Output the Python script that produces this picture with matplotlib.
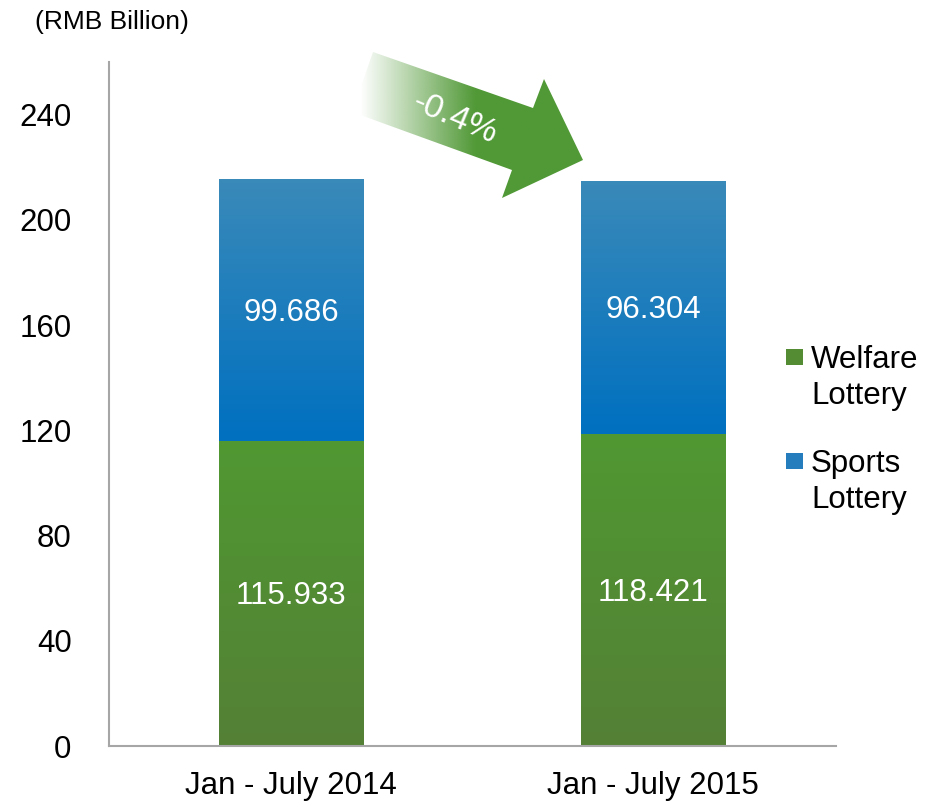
import matplotlib
matplotlib.use("Agg")
import matplotlib.pyplot as plt
import numpy as np
from matplotlib.patches import Polygon, Rectangle
from matplotlib.colors import to_rgb

categories = ["Jan - July 2014", "Jan - July 2015"]
welfare = [115.933, 118.421]
sports = [99.686, 96.304]
series_names = ["Welfare\nLottery", "Sports\nLottery"]
yticks = [0, 40, 80, 120, 160, 200, 240]
change_label = "-0.4%"

plt.rcParams['font.family'] = ['Liberation Sans', 'DejaVu Sans']

W, H = 932, 801
fig = plt.figure(figsize=(W / 100, H / 100), dpi=100)
ax = fig.add_axes([109 / W, 1 - 746 / H, (836 - 109) / W, (746 - 62) / H])

green_top, green_bot = (80, 152, 50), (84, 128, 54)
blue_top, blue_bot = (58, 138, 185), (0, 112, 192)


def grad_img(c_top, c_bot, n=256):
    t = np.linspace(0, 1, n)[:, None]
    a = np.array(c_top) / 255.0
    b = np.array(c_bot) / 255.0
    img = a[None, :] * (1 - t[..., None]) + b[None, :] * t[..., None]
    return img


x = np.arange(len(categories))
width = 0.40
b1 = ax.bar(x, welfare, width, color=np.array(green_bot) / 255, label=series_names[0])
b2 = ax.bar(x, sports, width, bottom=welfare, color=np.array(blue_bot) / 255, label=series_names[1])

ax.set_xlim(-0.503, 1.506)
ax.set_ylim(0, 260)

for bars, ct, cb in [(b1, green_top, green_bot), (b2, blue_top, blue_bot)]:
    for r in bars:
        x0, y0 = r.get_x(), r.get_y()
        w, h = r.get_width(), r.get_height()
        im = ax.imshow(grad_img(ct, cb), extent=[x0, x0 + w, y0, y0 + h],
                       aspect='auto', origin='upper', zorder=r.get_zorder() + 0.1,
                       interpolation='bilinear')
        im.set_clip_path(r)

for i in range(len(categories)):
    ax.text(x[i], welfare[i] / 2 - 1, f"{welfare[i]:.3f}", ha='center', va='center',
            color='white', fontsize=22.5, zorder=5)
    ax.text(x[i], welfare[i] + sports[i] / 2 - 1, f"{sports[i]:.3f}", ha='center', va='center',
            color='white', fontsize=22.5, zorder=5)

ax.set_xlim(-0.503, 1.506)
ax.set_ylim(0, 260)
ax.set_yticks(yticks)
ax.set_xticks(x)
ax.set_xticklabels(categories)
ax.tick_params(axis='both', length=0, labelsize=22.5, colors='black')
ax.tick_params(axis='y', pad=27)
ax.tick_params(axis='x', pad=18)
for s in ['top', 'right']:
    ax.spines[s].set_visible(False)
for s in ['left', 'bottom']:
    ax.spines[s].set_color('#a6a6a6')
    ax.spines[s].set_linewidth(1.5)

fig.text(35 / W, 1 - 22 / H, "(RMB Billion)", fontsize=19, va='center', ha='left')

# overlay in pixel coordinates (legend + gradient arrow)
ov = fig.add_axes([0, 0, 1, 1], zorder=10)
ov.set_xlim(0, W)
ov.set_ylim(H, 0)
ov.axis('off')
ov.patch.set_alpha(0)

# legend: marker aligned with first line of each label
legend_rows = [(series_names[0], (84, 140, 52), 357), (series_names[1], (38, 125, 190), 461)]
for name, col, yc in legend_rows:
    ov.add_patch(Rectangle((786, yc - 8), 17, 16, facecolor=np.array(col) / 255, edgecolor='none'))
    first, second = name.split("\n")
    ov.text(811, yc + 3, first, fontsize=22.5, va='center', ha='left')
    ov.text(811, yc + 39, second, fontsize=22.5, va='center', ha='left')

pts = [(373, 52), (533, 108), (544, 79), (583, 160), (502, 198), (512, 170), (352, 112)]
poly = Polygon(pts, closed=True, facecolor='none', edgecolor='none')
ov.add_patch(poly)
xs = np.linspace(340, 600, 300)
green = np.array(to_rgb('#519937'))
alpha = np.clip((xs - 360) / (475 - 360), 0, 1)
img = np.zeros((2, len(xs), 4))
img[..., :3] = green
img[..., 3] = alpha[None, :]
im = ov.imshow(img, extent=[340, 600, 210, 40], aspect='auto', interpolation='bilinear')
im.set_clip_path(poly)
ov.text(455, 119, change_label, rotation=-23, color='white', fontsize=24.5,
        ha='center', va='center', rotation_mode='anchor')
ov.set_xlim(0, W)
ov.set_ylim(H, 0)

fig.savefig("out.png", dpi=100)
